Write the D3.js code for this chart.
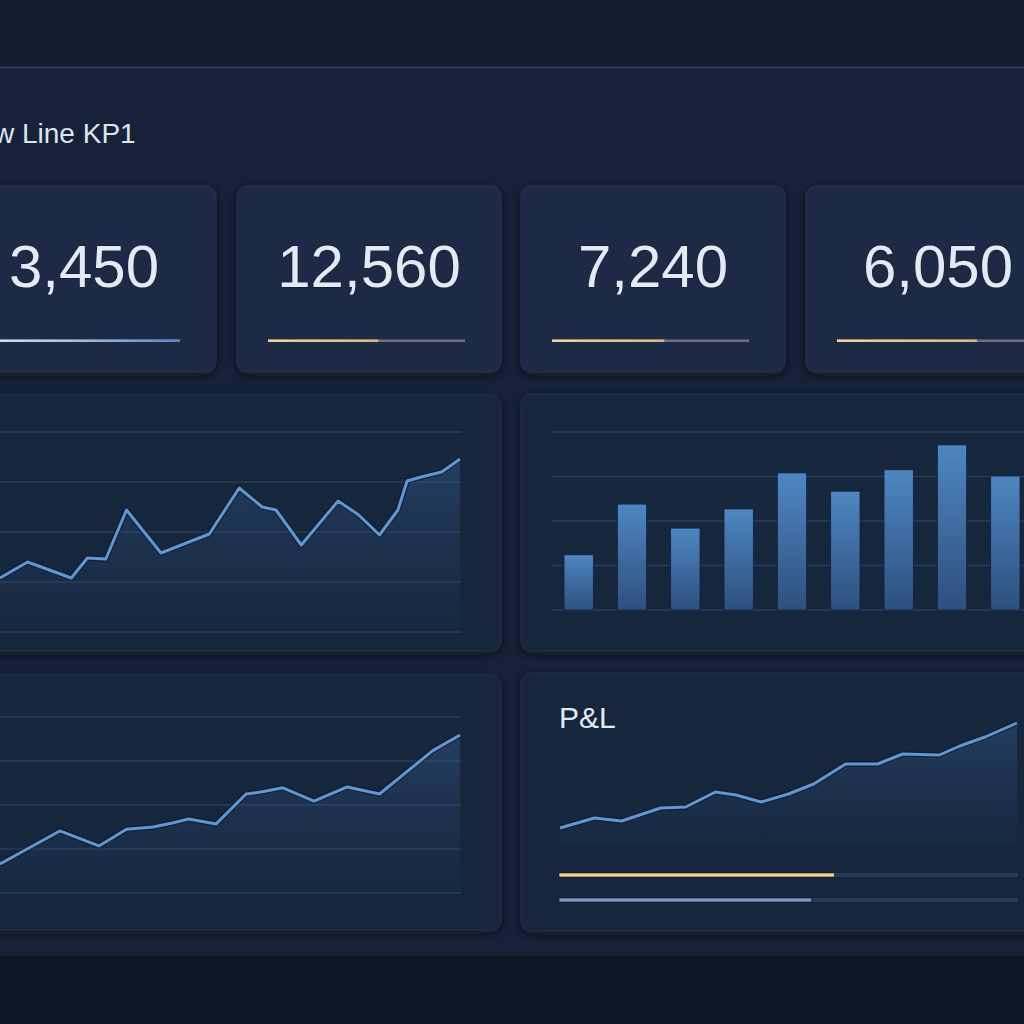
<!DOCTYPE html>
<html>
<head>
<meta charset="utf-8">
<script src="https://cdn.jsdelivr.net/npm/d3@7"></script>
<style>
  body { margin: 0; background: #0f1828; }
  svg { display: block; }
</style>
</head>
<body>
<div id="chart-area"></div>
<script>
// Datos
var kpiValues = [3450, 12560, 7240, 6050];
var kpiProgress = [1.0, 0.56, 0.57, 0.71];

var trendDays = [0, 1.2, 3.1, 3.8, 4.6, 5.5, 7.0, 9.1, 10.4, 11.4, 12.0, 13.1, 14.7, 15.6, 16.5, 17.3, 17.7, 18.3, 19.2, 20];
var trendValues = [108, 140, 108, 148, 146, 244, 158, 196, 288, 250, 244, 174, 262, 234, 194, 244, 302, 310, 320, 346];

var barLabels = ["Jan", "Feb", "Mar", "Apr", "May", "Jun", "Jul", "Aug", "Sep"];
var barValues = [124, 238, 184, 227, 308, 267, 315, 371, 301];

var growthDays = [0, 2.6, 4.3, 5.5, 6.65, 7.5, 8.2, 9.4, 10.7, 11.4, 12.3, 13.65, 15.1, 16.5, 18.8, 20];
var growthValues = [66, 141, 107, 145, 150, 159, 168, 157, 225, 230, 239, 209, 241, 225, 323, 359];

var pnlDays = [0, 1.5, 2.7, 4.4, 5.5, 6.8, 7.7, 8.8, 10, 11.1, 12.5, 13.9, 15, 16.6, 17.5, 18.6, 20];
var pnlValues = [17, 27, 24, 37, 38, 53, 50, 43, 51, 61, 81, 81, 91, 90, 99, 108, 122];
var pnlProgress = [0.6, 0.55];

var gridTicks = [0, 100, 200, 300, 400];

var width = 1024, height = 1024;

var svg = d3.select("#chart-area")
    .append("svg")
    .attr("width", width)
    .attr("height", height)
    .style("font-family", "'Liberation Sans', Arial, sans-serif");

// Definiciones: sombras y degradados
var defs = svg.append("defs");

var shadow = defs.append("filter").attr("id", "shadow")
    .attr("x", "-10%").attr("y", "-10%").attr("width", "120%").attr("height", "130%");
shadow.append("feDropShadow")
    .attr("dx", 0).attr("dy", 3).attr("stdDeviation", 4)
    .attr("flood-color", "#070d18").attr("flood-opacity", 0.7);

var areaGrad = defs.append("linearGradient").attr("id", "areaGrad")
    .attr("x1", 0).attr("y1", 0).attr("x2", 0).attr("y2", 1);
areaGrad.append("stop").attr("offset", "0%").attr("stop-color", "#3f6aa3").attr("stop-opacity", 0.35);
areaGrad.append("stop").attr("offset", "100%").attr("stop-color", "#22375a").attr("stop-opacity", 0.15);

var barGrad = defs.append("linearGradient").attr("id", "barGrad")
    .attr("x1", 0).attr("y1", 0).attr("x2", 0).attr("y2", 1);
barGrad.append("stop").attr("offset", "0%").attr("stop-color", "#4e86c2");
barGrad.append("stop").attr("offset", "100%").attr("stop-color", "#2e4f7e");

var goldGrad = defs.append("linearGradient").attr("id", "goldGrad");
goldGrad.append("stop").attr("offset", "0%").attr("stop-color", "#f0d39a");
goldGrad.append("stop").attr("offset", "100%").attr("stop-color", "#d9b779");

var blueGrad = defs.append("linearGradient").attr("id", "blueGrad");
blueGrad.append("stop").attr("offset", "0%").attr("stop-color", "#d8e4f2");
blueGrad.append("stop").attr("offset", "50%").attr("stop-color", "#9dbbe0");
blueGrad.append("stop").attr("offset", "100%").attr("stop-color", "#5b86c0");

// Fondo
svg.append("rect").attr("width", width).attr("height", 67).attr("fill", "#121c2f");
svg.append("rect").attr("y", 67).attr("width", width).attr("height", 888).attr("fill", "#16223a");
svg.append("line").attr("x1", 0).attr("x2", width).attr("y1", 67.5).attr("y2", 67.5)
    .attr("stroke", "#34465f").attr("stroke-width", 1.5);
svg.append("rect").attr("y", 955).attr("width", width).attr("height", 69).attr("fill", "#0e1727");
svg.append("line").attr("x1", 0).attr("x2", width).attr("y1", 955).attr("y2", 955)
    .attr("stroke", "#1f2d44").attr("stroke-width", 1);

// Titulo
svg.append("text")
    .attr("x", -6)
    .attr("y", 143)
    .attr("font-size", "28px")
    .attr("fill", "#dde5ef")
    .text("w Line KP1");

// KPI cards
var cardX = [-48, 237, 521, 806];
var cards = svg.selectAll(".kpi").data(kpiValues).enter().append("g")
    .attr("class", "kpi")
    .attr("transform", (d, i) => "translate(" + cardX[i] + ",186)");

cards.append("rect")
    .attr("width", 264).attr("height", 186).attr("rx", 10)
    .attr("fill", "#1c2a45")
    .attr("stroke", "#24334f")
    .attr("filter", "url(#shadow)");

var fmt = d3.format(",");
cards.append("text")
    .attr("x", 132).attr("y", 101)
    .attr("text-anchor", "middle")
    .attr("font-size", "60px")
    .attr("fill", "#e1eaf6")
    .attr("stroke", "#0d1524").attr("stroke-width", 0.8)
    .attr("paint-order", "stroke")
    .text((d) => fmt(d));

var progX = d3.scaleLinear().domain([0, 1]).range([0, 197]);
cards.append("rect")
    .attr("x", 31).attr("y", 153.5)
    .attr("width", progX(1)).attr("height", 2.5)
    .attr("fill", "#6c7080");
cards.append("rect")
    .attr("x", 31).attr("y", 153.5)
    .attr("width", (d, i) => progX(kpiProgress[i])).attr("height", 2.5)
    .attr("fill", (d, i) => i === 0 ? "url(#blueGrad)" : "url(#goldGrad)");

// Funcion para paneles con linea
function linePanel(px, py, pw, ph, days, values, xRange, yRange, yDomain, grid, gridX) {
    svg.append("rect")
        .attr("x", px).attr("y", py).attr("width", pw).attr("height", ph).attr("rx", 10)
        .attr("fill", "#18253c").attr("stroke", "#22314b")
        .attr("filter", "url(#shadow)");

    var x = d3.scaleLinear().domain([0, 20]).range(xRange);
    var y = d3.scaleLinear().domain(yDomain).range(yRange);

    if (grid) {
        svg.append("g").selectAll("line").data(grid).enter().append("line")
            .attr("x1", gridX[0]).attr("x2", gridX[1])
            .attr("y1", (d) => y(d)).attr("y2", (d) => y(d))
            .attr("stroke", "#2b3c58").attr("stroke-width", 1.5);
    }

    var pts = days.map((d, i) => [d, values[i]]);
    var area = d3.area()
        .x((d) => x(d[0]))
        .y0(y(yDomain[0]))
        .y1((d) => y(d[1]));
    svg.append("path").datum(pts).attr("d", area).attr("fill", "url(#areaGrad)");

    var line = d3.line().x((d) => x(d[0])).y((d) => y(d[1]));
    svg.append("path").datum(pts).attr("d", line)
        .attr("fill", "none").attr("stroke", "#0e1626").attr("stroke-width", 5.5)
        .attr("stroke-linejoin", "round").attr("opacity", 0.6);
    svg.append("path").datum(pts).attr("d", line)
        .attr("fill", "none").attr("stroke", "#6096d2").attr("stroke-width", 3)
        .attr("stroke-linejoin", "round");
}

// Panel 1: tendencia
linePanel(-20, 395, 521, 256, trendDays, trendValues, [0, 460], [632, 432], [0, 400], gridTicks, [-20, 461]);

// Panel 2: barras
svg.append("rect")
    .attr("x", 521).attr("y", 394).attr("width", 540).attr("height", 257).attr("rx", 10)
    .attr("fill", "#18253c").attr("stroke", "#22314b")
    .attr("filter", "url(#shadow)");

var xb = d3.scaleBand().domain(barLabels).range([552, 1032]).paddingInner(0.45).paddingOuter(0.225);
var yb = d3.scaleLinear().domain([0, 400]).range([610, 432]);

svg.append("g").selectAll("line").data(gridTicks).enter().append("line")
    .attr("x1", 552).attr("x2", 1024)
    .attr("y1", (d) => yb(d)).attr("y2", (d) => yb(d))
    .attr("stroke", "#2b3c58").attr("stroke-width", 1.5);

svg.append("g").selectAll("rect").data(barValues).enter().append("rect")
    .attr("x", (d, i) => xb(barLabels[i]))
    .attr("y", (d) => yb(d))
    .attr("width", xb.bandwidth())
    .attr("height", (d) => yb(0) - yb(d))
    .attr("fill", "url(#barGrad)")
    .attr("stroke", "#13203a").attr("stroke-width", 0.8);

// Panel 3: crecimiento
linePanel(-20, 675, 521, 255, growthDays, growthValues, [0, 460], [893, 717], [0, 400], gridTicks, [-20, 461]);

// Panel 4: P&L
linePanel(521, 673, 540, 258, pnlDays, pnlValues, [560, 1017], [845, 715], [0, 130], null, null);

svg.append("text")
    .attr("x", 559).attr("y", 728)
    .attr("font-size", "30px")
    .attr("fill", "#e4ebf5")
    .text("P&L");

var pnlX = d3.scaleLinear().domain([0, 1]).range([0, 459]);
var pnlY = [873, 898];
var pnlColor = ["#f3cf8c", "#7d98c6"];
svg.append("g").selectAll("rect").data(pnlProgress).enter().append("rect")
    .attr("x", 559).attr("y", (d, i) => pnlY[i])
    .attr("width", pnlX(1)).attr("height", 4)
    .attr("fill", "#2a3a53");
svg.append("g").selectAll("rect").data(pnlProgress).enter().append("rect")
    .attr("x", 559).attr("y", (d, i) => pnlY[i])
    .attr("width", (d) => pnlX(d)).attr("height", 4)
    .attr("fill", (d, i) => pnlColor[i])
    .attr("stroke", "#0c1322").attr("stroke-width", 0.6);
</script>
</body>
</html>
